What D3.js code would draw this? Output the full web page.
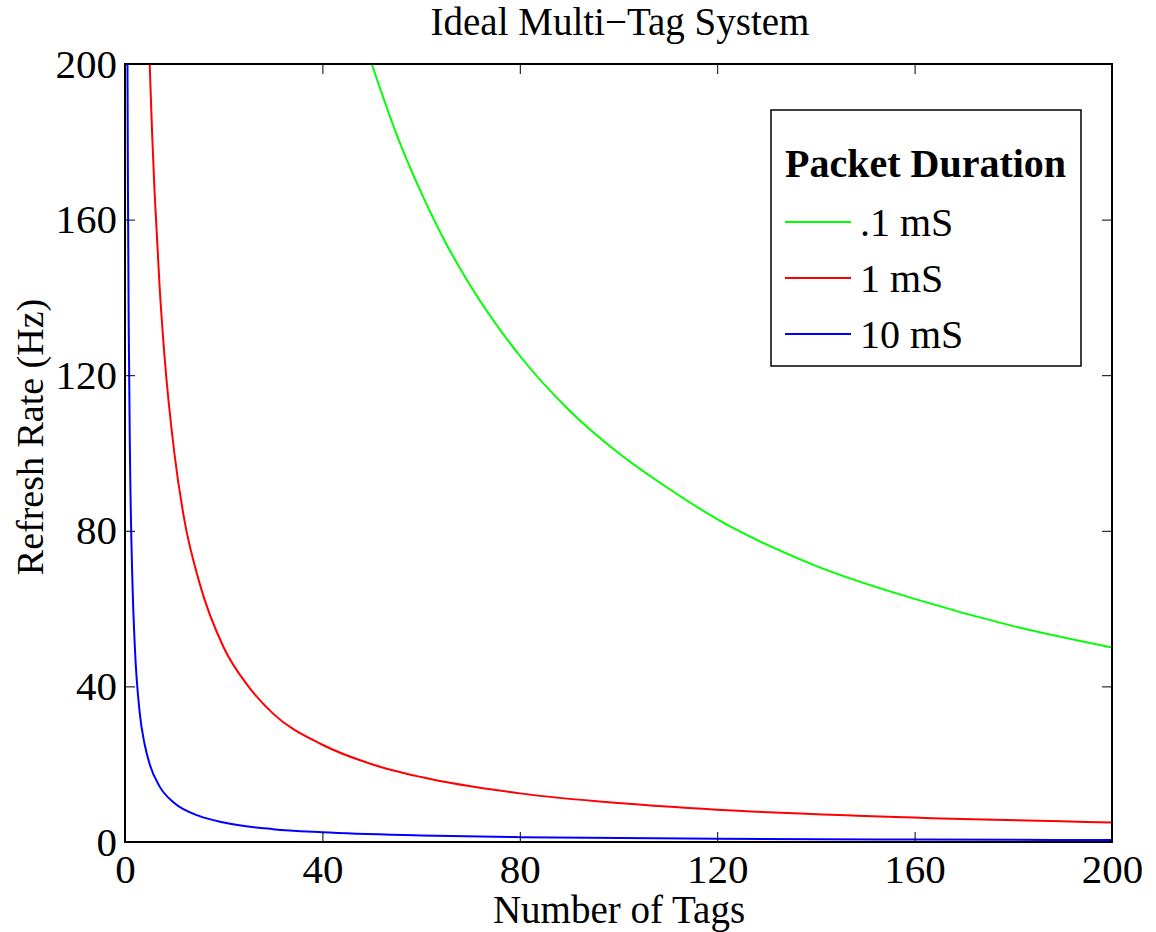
<!DOCTYPE html>
<html>
<head>
<meta charset="utf-8">
<script src="https://cdn.jsdelivr.net/npm/d3@7"></script>
<style>
  body { margin: 0; background: #fff; }
  svg text { font-family: "Liberation Serif", "DejaVu Serif", serif; fill: #000; }
</style>
</head>
<body>
<div id="chart"></div>
<script>
// values
const tags01 = [50, 55, 60, 65, 70, 80, 90, 100, 110, 120, 140, 160, 180, 200];
const rate01 = [200, 182, 167, 154, 143, 125, 111, 100, 91, 83, 71, 62.5, 55.5, 50];

const tags1 = [5, 5.5, 6, 7, 8, 10, 12, 15, 20, 25, 30, 40, 50, 60, 80, 100, 120, 150, 200];
const rate1 = [200, 182, 167, 143, 125, 100, 83, 67, 50, 40, 33, 25, 20, 16.7, 12.5, 10, 8.3, 6.7, 5];

const tags10 = [0.5, 0.6, 0.75, 1, 1.5, 2, 3, 4, 5, 7, 10, 15, 20, 30, 40, 60, 80, 120, 160, 200];
const rate10 = [200, 167, 133, 100, 67, 50, 33, 25, 20, 14.3, 10, 6.7, 5, 3.3, 2.5, 1.7, 1.25, 0.83, 0.63, 0.5];

const seriesNames = ['.1 mS', '1 mS', '10 mS'];
const seriesColors = ['#00ff00', '#ff0000', '#0000ff'];
const tickValues = [0, 40, 80, 120, 160, 200];

const width = 1156;
const height = 932;
const margin = {top: 64, right: 44, bottom: 90, left: 125};

const svg = d3.select('#chart').append('svg')
    .attr('width', width)
    .attr('height', height);

const x = d3.scaleLinear().domain([0, 200]).range([margin.left, width - margin.right]);
const y = d3.scaleLinear().domain([0, 200]).range([height - margin.bottom, margin.top]);

svg.append('clipPath').attr('id', 'plot-clip')
    .append('rect')
    .attr('x', x(0)).attr('y', y(200))
    .attr('width', x(200) - x(0)).attr('height', y(0) - y(200));

const series = [
    {name: seriesNames[0], color: seriesColors[0], xs: tags01, ys: rate01},
    {name: seriesNames[1], color: seriesColors[1], xs: tags1, ys: rate1},
    {name: seriesNames[2], color: seriesColors[2], xs: tags10, ys: rate10}
];

const line = d3.line()
    .x(d => x(d[0]))
    .y(d => y(d[1]))
    .curve(d3.curveMonotoneX);

const plot = svg.append('g').attr('clip-path', 'url(#plot-clip)');
series.forEach(s => {
    plot.append('path')
        .datum(s.xs.map((v, i) => [v, s.ys[i]]))
        .attr('d', line)
        .attr('fill', 'none')
        .attr('stroke', s.color)
        .attr('stroke-width', 2);
});

// axes, ticks pointing inward on all four sides
const tickLen = 10;
function styleAxis(g) {
    g.select('.domain').remove();
    g.selectAll('.tick line').attr('stroke', '#000').attr('stroke-width', 1);
    g.selectAll('.tick text').attr('font-size', 41).attr('font-family', '"Liberation Serif", serif');
}

svg.append('g')
    .attr('transform', `translate(0,${y(0)})`)
    .call(d3.axisBottom(x).tickValues(tickValues).tickSize(-tickLen).tickPadding(12))
    .call(styleAxis)
    .selectAll('.tick text').attr('dy', '0.71em');

svg.append('g')
    .attr('transform', `translate(0,${y(200)})`)
    .call(d3.axisTop(x).tickValues(tickValues).tickSize(-tickLen).tickFormat(''))
    .call(styleAxis);

svg.append('g')
    .attr('transform', `translate(${x(0)},0)`)
    .call(d3.axisLeft(y).tickValues(tickValues).tickSize(-tickLen).tickPadding(8))
    .call(styleAxis);

svg.append('g')
    .attr('transform', `translate(${x(200)},0)`)
    .call(d3.axisRight(y).tickValues(tickValues).tickSize(-tickLen).tickFormat(''))
    .call(styleAxis);

svg.append('rect')
    .attr('x', x(0)).attr('y', y(200))
    .attr('width', x(200) - x(0)).attr('height', y(0) - y(200))
    .attr('fill', 'none')
    .attr('stroke', '#000')
    .attr('stroke-width', 2);

// titles
svg.append('text')
    .attr('x', 620).attr('y', 35)
    .attr('text-anchor', 'middle')
    .attr('font-size', 39)
    .text('Ideal Multi\u2212Tag System');

svg.append('text')
    .attr('x', 619).attr('y', 923)
    .attr('text-anchor', 'middle')
    .attr('font-size', 39)
    .text('Number of Tags');

svg.append('text')
    .attr('transform', `translate(43,437) rotate(-90)`)
    .attr('text-anchor', 'middle')
    .attr('font-size', 38)
    .text('Refresh Rate (Hz)');

// legend
const legend = svg.append('g').attr('transform', 'translate(771,110)');
legend.append('rect')
    .attr('width', 310).attr('height', 256)
    .attr('fill', '#fff')
    .attr('stroke', '#000')
    .attr('stroke-width', 1.5);
legend.append('text')
    .attr('x', 14).attr('y', 67)
    .attr('font-size', 40)
    .attr('font-weight', 'bold')
    .text('Packet Duration');
series.forEach((s, i) => {
    const ly = 112 + i * 56;
    legend.append('line')
        .attr('x1', 14).attr('x2', 80)
        .attr('y1', ly).attr('y2', ly)
        .attr('stroke', s.color)
        .attr('stroke-width', 2);
    legend.append('text')
        .attr('x', 89).attr('y', ly + 14)
        .attr('font-size', 40)
        .text(s.name);
});
</script>
</body>
</html>
